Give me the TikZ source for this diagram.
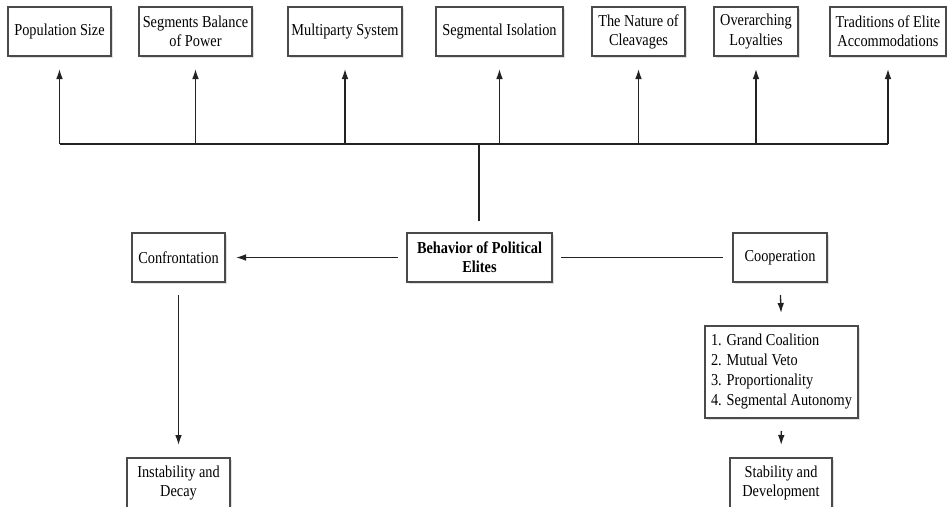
\documentclass[tikz,border=0pt]{standalone}
\usepackage{fontspec}
\setmainfont[FakeStretch=0.86]{Liberation Serif}
\usetikzlibrary{arrows.meta,shadows}
\definecolor{boxline}{HTML}{4A4A4A}
\definecolor{conline}{HTML}{222222}
\tikzset{
  bx/.style={draw=boxline, line width=1.5pt, fill=white, align=center, inner sep=0pt,
    font=\fontsize{12.5pt}{14.3pt}\selectfont,
    drop shadow={opacity=0.25, shadow xshift=1.2pt, shadow yshift=-1.2pt}},
  con/.style={draw=conline, line width=1pt},
  arr/.style={con, -{Latex[length=7.5pt,width=5pt]}}
}
\begin{document}
\begin{tikzpicture}[x=0.75pt,y=-0.75pt]
\useasboundingbox (0,0) rectangle (947,507);
\clip (0,0) rectangle (947,507);
% top row
\node[bx, minimum width=103*0.75pt, minimum height=49*0.75pt] (b1) at (59.5,31.5) {Population Size};
\node[bx, minimum width=113*0.75pt, minimum height=49*0.75pt] (b2) at (195.5,31.5) {Segments Balance\\of Power};
\node[bx, minimum width=114*0.75pt, minimum height=49*0.75pt] (b3) at (345,31.5) {Multiparty System};
\node[bx, minimum width=127*0.75pt, minimum height=49*0.75pt] (b4) at (499.5,31.5) {Segmental Isolation};
\node[bx, minimum width=93*0.75pt, minimum height=49*0.75pt] (b5) at (638.5,31.5) {The Nature of\\Cleavages};
\node[bx, minimum width=84*0.75pt, minimum height=49*0.75pt] (b6) at (756,31.5) {Overarching\\Loyalties};
\node[bx, minimum width=116*0.75pt, minimum height=49*0.75pt] (b7) at (888,31.5) {Traditions of Elite\\Accommodations};
% middle row
\node[bx, minimum width=145*0.75pt, minimum height=49*0.75pt, font=\fontsize{12.5pt}{14.3pt}\selectfont\bfseries] (beh) at (479.5,257.5) {Behavior of Political\\Elites};
\node[bx, minimum width=93*0.75pt, minimum height=49*0.75pt] (conf) at (178.5,257.5) {Confrontation};
\node[bx, minimum width=94*0.75pt, minimum height=49*0.75pt] (coop) at (780,257.5) {Cooperation};
% lower
\node[bx, minimum width=153*0.75pt, minimum height=92*0.75pt, align=left, font=\fontsize{12.5pt}{15pt}\selectfont] (list) at (781.5,372) {1. Grand Coalition\\2. Mutual Veto\\3. Proportionality\\4. Segmental Autonomy};
\node[bx, minimum width=102*0.75pt, minimum height=50*0.75pt] (stab) at (781,483) {Stability and\\Development};
\node[bx, minimum width=103*0.75pt, minimum height=50*0.75pt] (inst) at (178.5,483) {Instability and\\Decay};
% connectors
\coordinate (hub) at (479,144);
\coordinate (stem) at (479,221);
\draw[con] (stem) -- (hub);
\draw[con] (b1.south |- hub) -- (b7.south |- hub);
\foreach \b in {b1,b2,b3,b4,b5,b6,b7}{
  \draw[arr, shorten >=9pt] (\b.south |- hub) -- (\b.south);
}
\draw[arr, shorten <=6pt, shorten >=7.5pt] (beh.west) -- (conf.east);
\draw[con, shorten <=6pt, shorten >=6.5pt] (beh.east) -- (coop.west);
\draw[arr, shorten <=9pt, shorten >=9pt] (coop.south) -- (list.north);
\draw[arr, shorten <=9pt, shorten >=9pt] (list.south) -- (stab.north);
\draw[arr, shorten <=9pt, shorten >=9pt] (conf.south) -- (inst.north);
\end{tikzpicture}
\end{document}
